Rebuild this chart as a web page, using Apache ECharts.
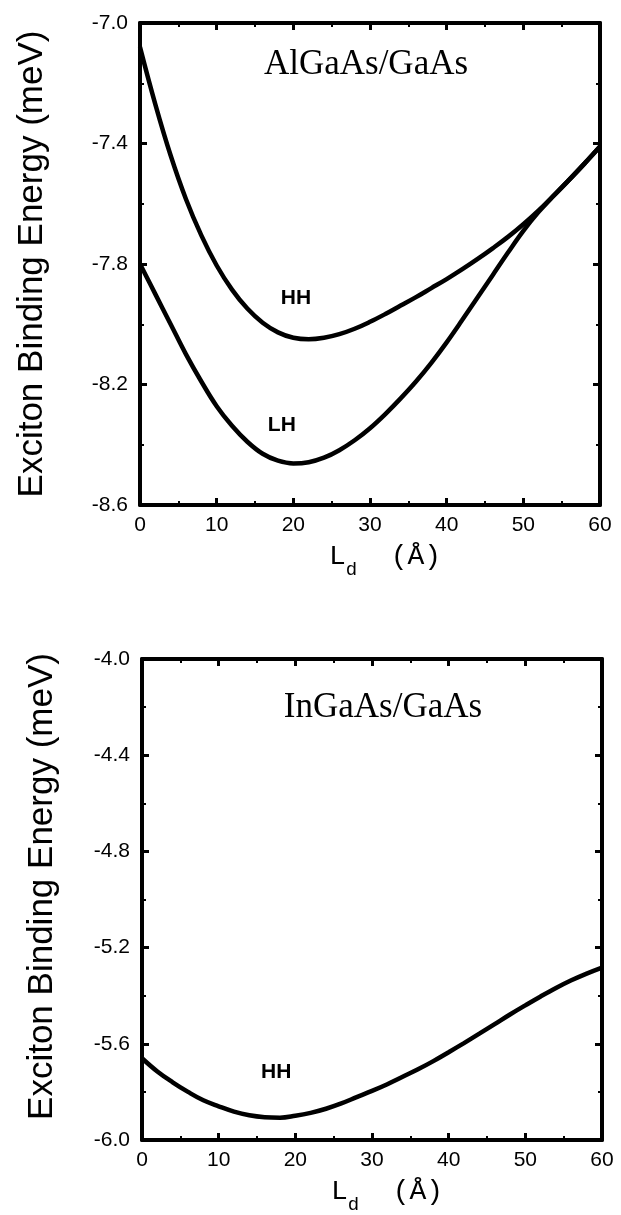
<!DOCTYPE html>
<html>
<head>
<meta charset="utf-8">
<script src="https://cdn.jsdelivr.net/npm/echarts@6/dist/echarts.min.js"></script>
<style>
html,body{margin:0;padding:0;background:#fff;}
#main{width:621px;height:1215px;}
</style>
</head>
<body>
<div id="main"></div>
<script>
// ---- data ----
const xLd = [0,2,4,6,8,10,12,14,16,18,20,22,24,26,28,30,32,34,36,38,40,42,44,46,48,50,52,54,56,58,60];
const algaasHH = [-7.08,-7.27,-7.44,-7.585,-7.705,-7.805,-7.885,-7.948,-7.995,-8.027,-8.045,-8.05,-8.045,-8.033,-8.015,-7.992,-7.966,-7.938,-7.91,-7.88,-7.85,-7.818,-7.784,-7.748,-7.71,-7.668,-7.622,-7.572,-7.52,-7.466,-7.41];
const algaasLH = [-7.80,-7.90,-8.00,-8.10,-8.19,-8.272,-8.337,-8.39,-8.43,-8.453,-8.462,-8.458,-8.443,-8.418,-8.385,-8.345,-8.298,-8.246,-8.19,-8.128,-8.06,-7.987,-7.912,-7.837,-7.762,-7.69,-7.627,-7.572,-7.52,-7.466,-7.41];
const ingaasHH = [-5.66,-5.715,-5.76,-5.80,-5.835,-5.86,-5.882,-5.897,-5.905,-5.907,-5.899,-5.887,-5.87,-5.848,-5.822,-5.796,-5.768,-5.737,-5.706,-5.672,-5.635,-5.597,-5.558,-5.518,-5.478,-5.44,-5.403,-5.368,-5.336,-5.308,-5.283];
const xTicks = [0,10,20,30,40,50,60];
const yTicksTop = [-8.6,-8.2,-7.8,-7.4,-7.0];
const yTicksBottom = [-6.0,-5.6,-5.2,-4.8,-4.4,-4.0];
const panelNames = ['AlGaAs/GaAs','InGaAs/GaAs'];
const yTitle = 'Exciton Binding Energy (meV)';

const pairs = (xs, ys) => xs.map((x, i) => [x, ys[i]]);

const chart = echarts.init(document.getElementById('main'), null, {renderer:'canvas'});
const SANS = 'Liberation Sans';
const MONO = 'Liberation Mono';
const SERIF = 'Liberation Serif';
const BLK = '#000';

function xAx(grid, pos, showLabels) {
  return {
    type:'value', gridIndex:grid, position:pos,
    min:xTicks[0], max:xTicks[xTicks.length-1], interval:10,
    axisLine:{show:true, onZero:false, lineStyle:{color:BLK, width:4}},
    axisTick:{show:true, inside:true, length:7, lineStyle:{color:BLK, width:3}},
    minorTick:{show:true, splitNumber:2, length:4, lineStyle:{color:BLK, width:2}},
    splitLine:{show:false},
    axisLabel:{show:showLabels, color:BLK, fontSize:21, fontFamily:SANS, margin:10},
    name: showLabels ? 'L{b|d}  (Å)' : '',
    nameLocation:'middle', nameGap:36,
    nameTextStyle:{
      color:BLK, fontSize:28, fontFamily:MONO, padding:[0,0,0,30], lineHeight:32,
      rich:{
        b:{fontSize:19, fontFamily:MONO, color:BLK, lineHeight:32, verticalAlign:'bottom', padding:[0,0,-6,0]}
      }
    }
  };
}
function yAx(grid, pos, ticks, showLabels, gap, pad) {
  return {
    type:'value', gridIndex:grid, position:pos,
    min:ticks[0], max:ticks[ticks.length-1], interval:0.4,
    axisLine:{show:true, onZero:false, lineStyle:{color:BLK, width:4}},
    axisTick:{show:true, inside:true, length:7, lineStyle:{color:BLK, width:3}},
    minorTick:{show:true, splitNumber:2, length:4, lineStyle:{color:BLK, width:2}},
    splitLine:{show:false},
    axisLabel:{show:showLabels, color:BLK, fontSize:21, fontFamily:SANS, margin:12,
      formatter:(v)=>v.toFixed(1)},
    name: showLabels ? yTitle : '',
    nameLocation:'middle', nameRotate:90, nameGap:gap,
    nameTextStyle:{color:BLK, fontSize:35, fontFamily:SANS, padding:pad}
  };
}
function curveLabel(text, x, y) {
  return {symbol:'circle', symbolSize:2, coord:[x,y], itemStyle:{color:'rgba(0,0,0,0)'},
    label:{show:true, position:'inside', formatter:text, color:BLK, fontSize:21, fontWeight:'bold', fontFamily:SANS}};
}
function lineSeries(name, xi, yi, data, labels) {
  return {
    name, type:'line', xAxisIndex:xi, yAxisIndex:yi, data,
    showSymbol:false, smooth:0.4, clip:true,
    lineStyle:{color:BLK, width:4.5},
    markPoint:{silent:true, animation:false, data:labels}
  };
}

chart.setOption({
  animation:false,
  backgroundColor:'#fff',
  grid:[
    {left:140, top:23, width:460, height:482},
    {left:142, top:659, width:460, height:484}
  ],
  xAxis:[ xAx(0,'bottom',true), xAx(0,'top',false), xAx(1,'bottom',true), xAx(1,'top',false) ],
  yAxis:[
    yAx(0,'left',yTicksTop,true,90,[0,0,0,0]),
    yAx(0,'right',yTicksTop,false,0,[0,0,0,0]),
    yAx(1,'left',yTicksBottom,true,82,[0,0,0,26]),
    yAx(1,'right',yTicksBottom,false,0,[0,0,0,0])
  ],
  series:[
    lineSeries('HH (AlGaAs/GaAs)',0,0,pairs(xLd,algaasHH),[curveLabel('HH',20.35,-7.913)]),
    lineSeries('LH (AlGaAs/GaAs)',0,0,pairs(xLd,algaasLH),[curveLabel('LH',18.5,-8.334)]),
    lineSeries('HH (InGaAs/GaAs)',2,2,pairs(xLd,ingaasHH),[curveLabel('HH',17.5,-5.719)])
  ],
  graphic:[
    {type:'text', x:366, y:65, style:{text:panelNames[0], font:'35px '+SERIF, fill:BLK, textAlign:'center', textVerticalAlign:'middle'}},
    {type:'text', x:383, y:708, style:{text:panelNames[1], font:'35px '+SERIF, fill:BLK, textAlign:'center', textVerticalAlign:'middle'}}
  ]
});
</script>
</body>
</html>
